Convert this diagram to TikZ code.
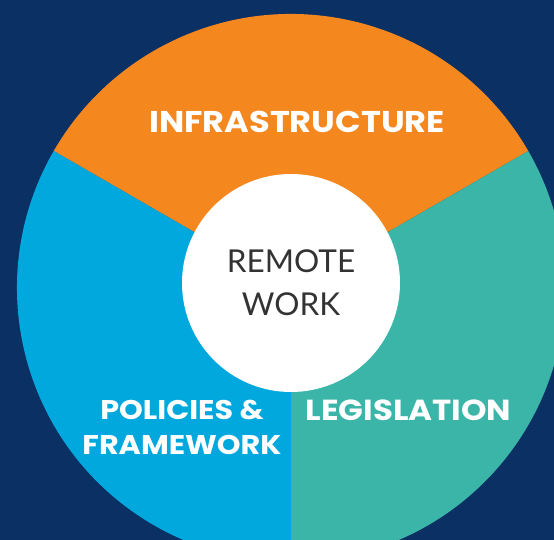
\documentclass[tikz,border=0pt]{standalone}
\usepackage{fontspec}
\setmainfont{Lato}
\newfontfamily\headfont{Poppins}[BoldFont={* Bold}, FakeStretch=1.12]
\usepackage{xcolor}
\usetikzlibrary{positioning}

\definecolor{navybg}{HTML}{0B3063}
\definecolor{infraorange}{HTML}{F5871F}
\definecolor{policyblue}{HTML}{00A8DE}
\definecolor{lawteal}{HTML}{3AB5A8}
\definecolor{hubtext}{HTML}{333333}

\begin{document}
\begin{tikzpicture}[
  x=1pt, y=1pt,
  hub/.style={circle, fill=white, minimum size=218pt, inner sep=0pt, align=center,
    text=hubtext, font=\fontsize{31.5}{43}\selectfont},
  seglabel/.style={text=white, align=center, font=\headfont\bfseries\fontsize{30}{35}\selectfont},
]

% Background
\fill[navybg] (0,0) rectangle (554,540);
\useasboundingbox (0,0) rectangle (554,540);
\clip (0,0) rectangle (554,540);

% Sectors
\coordinate (c) at (291,252);
\fill[infraorange] (c) -- ++(30:274) arc[start angle=30, end angle=150, radius=274] -- cycle;
\fill[policyblue] (c) -- ++(150:274) arc[start angle=150, end angle=270, radius=274] -- cycle;
\fill[lawteal] (c) -- ++(270:274) arc[start angle=270, end angle=390, radius=274] -- cycle;

% Hub
\node[hub] (hub) at (291,257) {REMOTE\\WORK};

% Sector labels
\node[seglabel] (infra) at (297,418) {INFRASTRUCTURE};
\node[seglabel, font=\headfont\bfseries\fontsize{27}{35}\selectfont] (policy) at (182,113) {POLICIES \&\\FRAMEWORK};
\node[seglabel, font=\headfont\bfseries\fontsize{29}{35}\selectfont] (law) at (408.5,130) {LEGISLATION};

\end{tikzpicture}
\end{document}
